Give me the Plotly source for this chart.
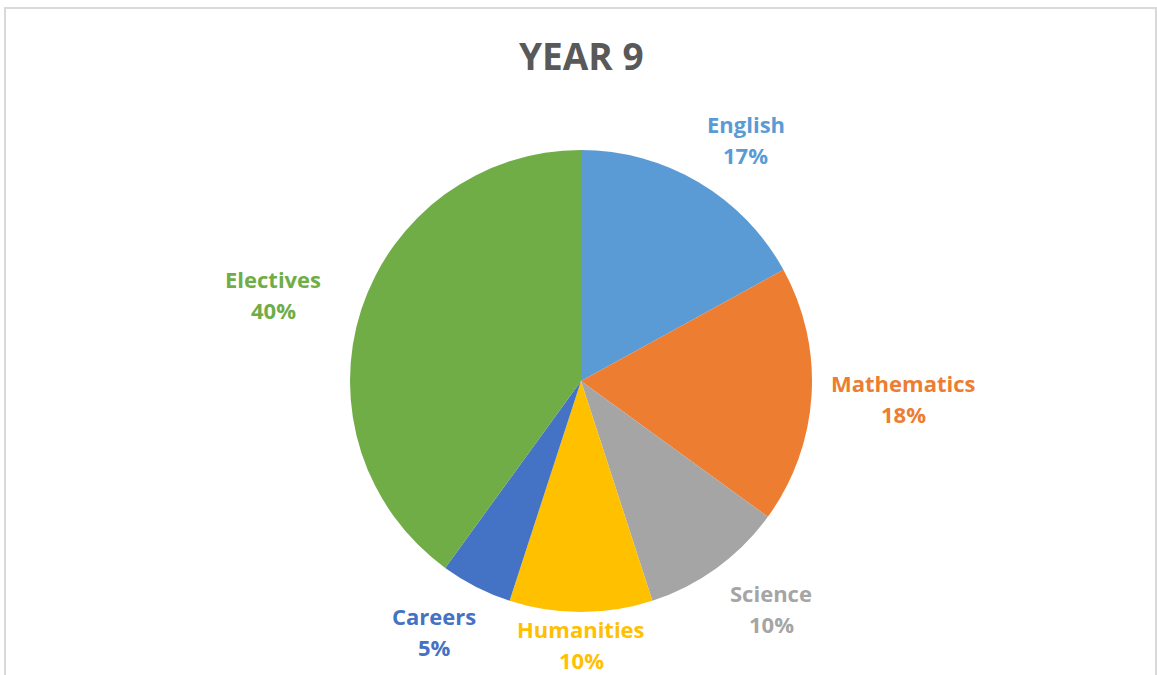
import math
import plotly.graph_objects as go

# ---- data ----
subjects = ["English", "Mathematics", "Science", "Humanities", "Careers", "Electives"]
shares = [17, 18, 10, 10, 5, 40]
colors = ["#5B9BD5", "#ED7D31", "#A5A5A5", "#FFC000", "#4472C4", "#70AD47"]
title_text = "YEAR 9"

W, H = 1157, 675
CX, CY, R = 581, 381, 231  # pie centre / radius in pixels
FONT = "Open Sans"
LABEL_SIZE = 22
LINE_GAP = 31

fig = go.Figure()
fig.add_trace(go.Pie(
    labels=subjects,
    values=shares,
    sort=False,
    direction="clockwise",
    rotation=0,
    marker=dict(colors=colors, line=dict(width=0)),
    textinfo="none",
    hoverinfo="label+percent",
    showlegend=False,
    domain=dict(x=[(CX - R) / W, (CX + R) / W],
                y=[(H - CY - R) / H, (H - CY + R) / H]),
))

# data labels placed outside each slice on an ellipse, from the slice mid-angles
total = sum(shares)
cum = 0
annotations = []
for name, v, c in zip(subjects, shares, colors):
    mid = (cum + v / 2) / total * 2 * math.pi
    cum += v
    dx, dy = math.sin(mid), -math.cos(mid)
    pct = f"{round(v / total * 100)}%"
    px = CX + dx * 1.4 * R
    py = min(CY + dy * 1.215 * R, H - LINE_GAP)
    for txt, off in ((name, -LINE_GAP / 2), (pct, LINE_GAP / 2)):
        annotations.append(dict(
            x=px / W, y=1 - (py + off) / H, xref="paper", yref="paper",
            text=f"<b>{txt}</b>",
            showarrow=False, xanchor="center", yanchor="middle",
            font=dict(family=FONT, size=LABEL_SIZE, color=c),
        ))

annotations.append(dict(
    x=CX / W, y=1 - 55 / H, xref="paper", yref="paper",
    text=f"<b>{title_text}</b>", showarrow=False,
    xanchor="center", yanchor="middle",
    font=dict(family=FONT, size=37, color="#595959"),
))

fig.update_layout(
    width=W, height=H,
    margin=dict(l=0, r=0, t=0, b=0),
    paper_bgcolor="white",
    plot_bgcolor="white",
    annotations=annotations,
    shapes=[dict(
        type="rect", xref="paper", yref="paper",
        x0=5 / W, x1=1156 / W, y0=-0.1, y1=1 - 8 / H,
        line=dict(color="#D9D9D9", width=2), fillcolor="rgba(0,0,0,0)",
        layer="below",
    )],
)

fig.write_html("out.html")
